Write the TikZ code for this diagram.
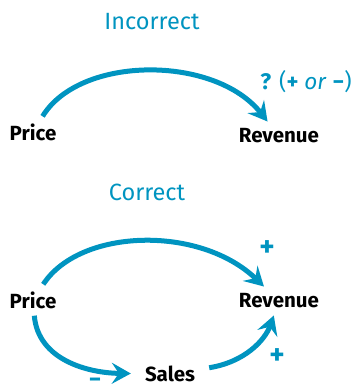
\documentclass[tikz,border=0pt]{standalone}
\usepackage{fontspec}
\setmainfont{Fira Sans}
\usepackage{tikz}
\usetikzlibrary{arrows.meta,positioning,calc}
\definecolor{loopblue}{RGB}{0,148,192}
\tikzset{
  var/.style={font=\fontsize{20.5}{23}\selectfont\bfseries, text=black, inner xsep=6pt, inner ysep=7pt},
  caption/.style={font=\fontsize{23.5}{26}\selectfont, text=loopblue},
  polarity/.style={font=\fontsize{29}{30}\selectfont\bfseries, text=loopblue, inner sep=0pt},
  link/.style={-{Stealth[length=19pt,width=21pt,inset=7pt]}, line width=5pt, draw=loopblue}
}
\begin{document}
\begin{tikzpicture}[x=1pt,y=-1pt]
      \useasboundingbox (0,0) rectangle (361,391);
      % incorrect
      \node[caption] (incorrect) at (152,22) {Incorrect};
      \node[var] (price1) at (33,132) {Price};
      \node[var] (rev1) at (279,136) {Revenue};
      \node[polarity, font=\fontsize{22.5}{25}\selectfont, inner sep=1pt] (unknown) at (306,82) {\textbf{?} (\textbf{+} \textit{or} \textbf{−})};
      \draw[link] (price1) .. controls (80,55) and (215,55) .. (rev1);
      % correct
      \node[caption] (correct) at (147,192) {Correct};
      \node[var] (price2) at (33,300) {Price};
      \node[var] (rev2) at (279,301) {Revenue};
      \node[var, inner xsep=14pt] (sales) at (170,374) {Sales};
      \draw[link] (price2) .. controls (38,360) and (88,373) .. (sales);
      \draw[link] (price2) .. controls (80,228) and (200,225) .. (rev2);
      \draw[link] (sales) .. controls (245,362) and (265,340) .. (rev2);
      \node[polarity] (pplus) at (267,249) {+};
      \node[polarity, font=\fontsize{24}{26}\selectfont\bfseries] (sminus) at (95,382.5) {−};
      \node[polarity] (rplus) at (277,357) {+};
    \end{tikzpicture}
\end{document}
